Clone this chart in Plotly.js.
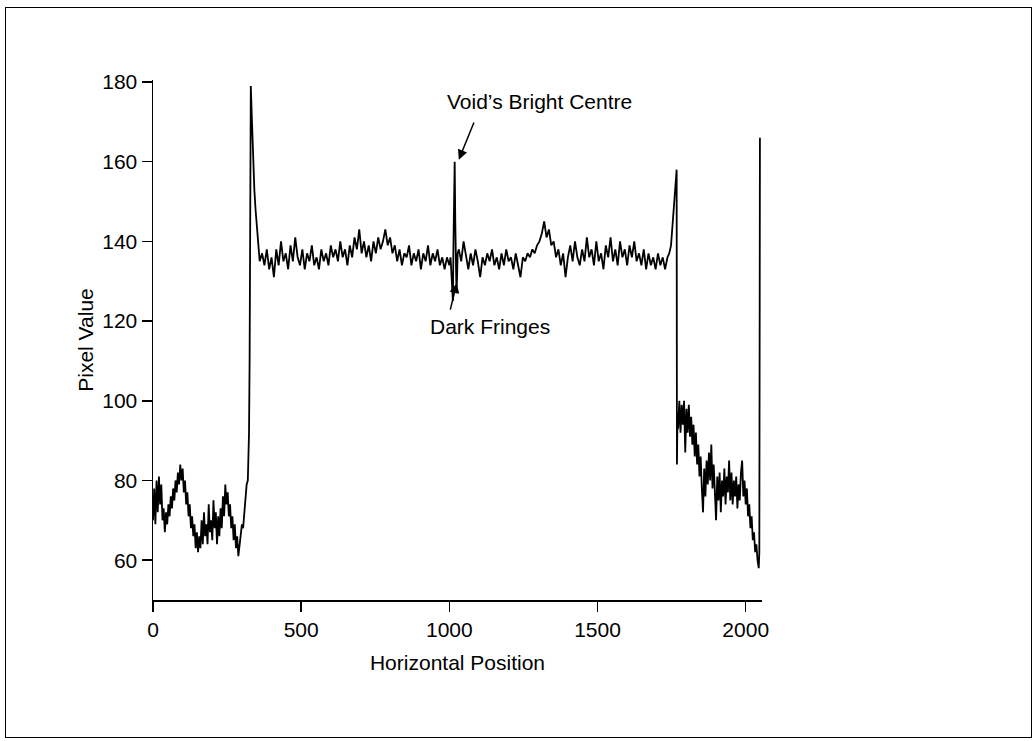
<!DOCTYPE html>
<html>
<head>
<meta charset="utf-8">
<script src="https://cdn.plot.ly/plotly-3.0.1.min.js"></script>
<style>
  html, body { margin: 0; padding: 0; background: #fff; }
  #wrap { position: relative; width: 1033px; height: 741px; }
  #chart { position: absolute; left: 0; top: 0; width: 1033px; height: 741px; }
  #frame { position: absolute; left: 5px; top: 7px; width: 1025px; height: 729px;
           border: 1.5px solid #000; pointer-events: none; }
</style>
</head>
<body>
<div id="wrap">
  <div id="chart"></div>
  <div id="frame"></div>
</div>
<script>
// ---- Data (Horizontal Position vs Pixel Value) ----
const leftStart = 0, leftStep = 4;
const leftVals = [70,78,69,80,72,81,74,79,70,73,67,72,69,74,71,76,73,78,75,80,77,82,79,84,80,83,77,80,74,77,71,74,68,71,66,69,63,67,62,66,63,70,64,72,66,69,64,74,67,70,65,75,68,72,64,71,66,73,68,76,71,79,74,77,71,74,68,71,65,69,63,66,61,64,66,69,68,72,74,79,80];

const riseX = [322,324,326,328,330,334,338,342,346,350,354];
const riseVals = [85,92,110,140,179,170,160,153,148,144,140];

const plateauAStart = 360, plateauAStep = 8;
const plateauAVals = [135,137,134,138,133,136,131,138,134,140,135,137,133,139,135,141,136,134,138,133,137,135,139,134,136,133,138,135,137,134,139,136,138,135,140,136,138,134,139,136,141,138,143,137,140,136,139,135,140,137,141,138,140,143,139,141,137,139,135,138,134,137,136,139,134,137,135,138,133,137,135,139,134,137,135,138,134,136,133,136,134];

const fringeX = [1004,1008,1012,1014,1016,1018,1020,1022,1024,1026,1028];
const fringeVals = [136,130,125,140,152,160,145,133,127,131,137];

const plateauBStart = 1032, plateauBStep = 8;
const plateauBVals = [138,135,140,136,133,137,134,138,135,131,136,134,137,135,138,134,136,133,137,134,138,135,136,133,137,134,131,136,135,137,136,138,137,139,140,142,145,141,143,139,140,136,138,134,137,131,136,139,135,140,136,134,138,135,141,136,138,134,140,135,137,133,139,136,141,135,138,134,140,136,138,134,139,136,140,135,137,134,138,133,137,134,136,133,137,134,136,133,136];

const edgeX = [1742,1748,1754,1760,1765,1767,1768,1770];
const edgeVals = [137,139,145,150,156,158,84,97];

const rightStart = 1772, rightStep = 4;
const rightVals = [93,100,92,99,94,100,87,98,92,99,91,96,89,94,86,92,84,89,81,86,78,72,83,76,85,79,87,80,89,78,84,75,70,81,75,82,72,80,76,83,74,81,77,85,75,82,74,80,76,81,73,79,75,82,85,76,80,74,78,71,74,68,71,65,67,62,64,60];

const endX = [2044,2046,2048];
const endVals = [58,62,166];

const xTicks = [0,500,1000,1500,2000];
const yTicks = [60,80,100,120,140,160,180];

// ---- Assemble series ----
const xs = [], ys = [];
function addStepped(start, step, vals) { vals.forEach((v,i) => { xs.push(start + i*step); ys.push(v); }); }
function addExplicit(xa, va) { xa.forEach((x,i) => { xs.push(x); ys.push(va[i]); }); }
addStepped(leftStart, leftStep, leftVals);
addExplicit(riseX, riseVals);
addStepped(plateauAStart, plateauAStep, plateauAVals);
addExplicit(fringeX, fringeVals);
addStepped(plateauBStart, plateauBStep, plateauBVals);
addExplicit(edgeX, edgeVals);
addStepped(rightStart, rightStep, rightVals);
addExplicit(endX, endVals);

const font = {family: 'Liberation Sans, Arial, sans-serif', size: 21, color: '#000'};

const trace = {
  x: xs, y: ys, type: 'scatter', mode: 'lines',
  line: {color: '#000', width: 1.8},
  hoverinfo: 'x+y'
};

const layout = {
  width: 1033, height: 741,
  margin: {l: 153, r: 271, t: 80, b: 141},
  paper_bgcolor: '#fff', plot_bgcolor: '#fff',
  showlegend: false,
  font: font,
  xaxis: {
    range: [0, 2055], tickvals: xTicks, ticktext: xTicks.map(String),
    ticks: 'outside', ticklen: 10, tickwidth: 1.5, tickcolor: '#000',
    showline: true, linecolor: '#000', linewidth: 1.5,
    showgrid: false, zeroline: false, tickfont: font,
    title: {text: 'Horizontal Position', font: font, standoff: 15},
    automargin: false
  },
  yaxis: {
    range: [50, 180.5], tickvals: yTicks, ticktext: yTicks.map(String),
    ticks: 'outside', ticklen: 10, tickwidth: 1.5, tickcolor: '#000',
    showline: true, linecolor: '#000', linewidth: 1.5,
    showgrid: false, zeroline: false, tickfont: font,
    title: {text: 'Pixel Value', font: font, standoff: 3},
    automargin: false
  },
  annotations: [
    {x: 1018, y: 160.5, xref: 'x', yref: 'y', text: "Void’s Bright Centre",
     showarrow: false, xanchor: 'center', yanchor: 'middle',
     xshift: 85, yshift: 58, font: font},
    {x: 1032, y: 160.5, xref: 'x', yref: 'y', text: '',
     showarrow: true, axref: 'x', ayref: 'y', ax: 1085, ay: 170.2,
     arrowhead: 2, arrowsize: 1.3, arrowwidth: 1.5, arrowcolor: '#000'},
    {x: 1018, y: 126, xref: 'x', yref: 'y', text: 'Dark Fringes',
     showarrow: false, xanchor: 'center', yanchor: 'middle',
     xshift: 35, yshift: -29, font: font},
    {x: 1025, y: 129.5, xref: 'x', yref: 'y', text: '',
     showarrow: true, axref: 'x', ayref: 'y', ax: 1002, ay: 122.5,
     arrowhead: 2, arrowsize: 1.3, arrowwidth: 1.5, arrowcolor: '#000'}
  ]
};

Plotly.newPlot('chart', [trace], layout, {displayModeBar: false, staticPlot: true});
</script>
</body>
</html>
